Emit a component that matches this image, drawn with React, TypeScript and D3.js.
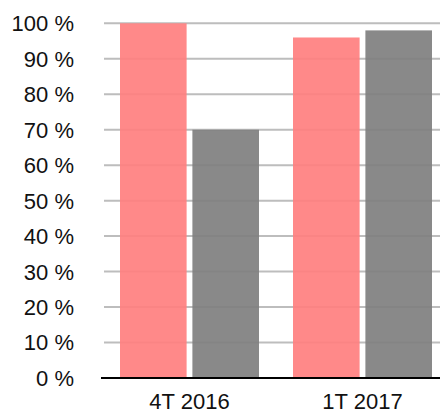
import React, { useEffect, useRef } from "react";
import * as d3 from "d3";

const categories = ["4T 2016", "1T 2017"];
const series = ["a", "b"];
const seriesA = [100, 96];
const seriesB = [70, 98];
const colors = ["#ff7f7f", "#7f7f7f"];
const yTicks = [0, 10, 20, 30, 40, 50, 60, 70, 80, 90, 100];

export default function App() {
  const ref = useRef<SVGSVGElement>(null);

  useEffect(() => {
    const width = 440;
    const height = 410;
    const svg = d3.select(ref.current).attr("width", width).attr("height", height);
    svg.selectAll("*").remove();

    const font = "'Liberation Sans', Arial, Helvetica, sans-serif";

    const x = d3.scaleBand().domain(categories).range([103, 449]);
    const xInner = d3.scaleBand().domain(series).range([17, x.bandwidth() - 17]).paddingInner(0.08);
    const y = d3.scaleLinear().domain([0, 100]).range([378, 23.3]);

    // grid lines
    svg
      .append("g")
      .selectAll("line")
      .data(yTicks.filter((t) => t > 0))
      .enter()
      .append("line")
      .attr("x1", 104)
      .attr("x2", width)
      .attr("y1", (d) => y(d))
      .attr("y2", (d) => y(d))
      .attr("stroke", "#bdbdbd")
      .attr("stroke-width", 2);

    // y labels
    svg
      .append("g")
      .selectAll("text")
      .data(yTicks)
      .enter()
      .append("text")
      .attr("x", 74)
      .attr("y", (d) => y(d))
      .attr("dy", "0.36em")
      .attr("text-anchor", "end")
      .style("font-family", font)
      .style("font-size", "22px")
      .attr("fill", "#111")
      .text((d) => d + " %");

    const rows = categories.map((c, i) => ({ c, vals: [seriesA[i], seriesB[i]] }));

    const groups = svg
      .append("g")
      .selectAll("g")
      .data(rows)
      .enter()
      .append("g")
      .attr("transform", (d) => `translate(${x(d.c)},0)`);

    groups
      .selectAll("rect")
      .data((d) => d.vals.map((v, j) => ({ k: series[j], v, j })))
      .enter()
      .append("rect")
      .attr("x", (d) => xInner(d.k)!)
      .attr("width", xInner.bandwidth())
      .attr("y", (d) => y(d.v))
      .attr("height", (d) => y(0) - y(d.v))
      .attr("fill", (d) => colors[d.j])
      .attr("fill-opacity", 0.92);

    // baseline
    svg
      .append("line")
      .attr("x1", 101)
      .attr("x2", width)
      .attr("y1", y(0))
      .attr("y2", y(0))
      .attr("stroke", "#000")
      .attr("stroke-width", 2);

    // x labels
    svg
      .append("g")
      .selectAll("text")
      .data(categories)
      .enter()
      .append("text")
      .attr("x", (d) => x(d)! + x.bandwidth() / 2)
      .attr("y", 408.5)
      .attr("text-anchor", "middle")
      .style("font-family", font)
      .style("font-size", "22px")
      .attr("fill", "#111")
      .text((d) => d);
  }, []);

  return (
    <div style={{ position: "absolute", left: 0, top: 0 }}>
      <svg ref={ref} style={{ display: "block" }} />
    </div>
  );
}
